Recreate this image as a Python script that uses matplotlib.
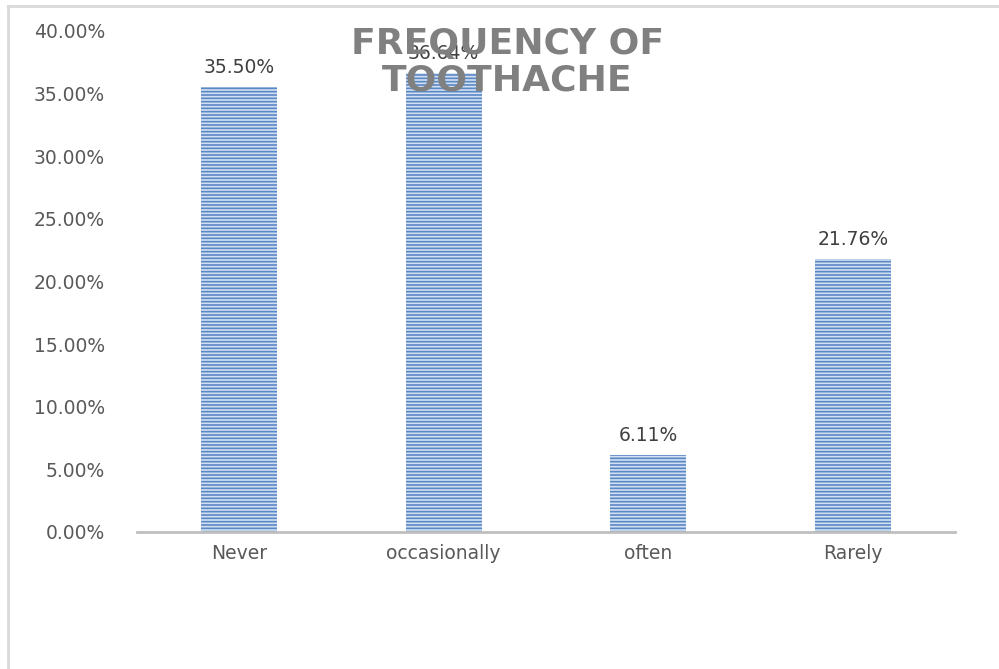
import matplotlib.pyplot as plt
from matplotlib.lines import Line2D
import numpy as np

# Survey answers: how often respondents get toothache
categories = ['Never', 'occasionally', 'often', 'Rarely']
percentages = [35.50, 36.64, 6.11, 21.76]
y_ticks = [0, 5, 10, 15, 20, 25, 30, 35, 40]

plt.rcParams['font.family'] = 'DejaVu Sans'
plt.rcParams['hatch.linewidth'] = 1.2

fig = plt.figure(figsize=(9.99, 6.69), dpi=100)
ax = fig.add_axes([0.137, 0.2048, 0.819, 0.7489])

x = np.arange(len(categories))
bars = ax.bar(x, percentages, width=0.373, color='#d3e0f2',
              edgecolor='#5a88c5', linewidth=0, hatch='-----', zorder=2)

# value labels on top of each bar
for xi, v in zip(x, percentages):
    ax.text(xi, v + 0.8, f'{v:.2f}%', ha='center', va='bottom',
            fontsize=13.5, color='#404040', zorder=3)

ax.set_xlim(-0.5, 3.5)
ax.set_ylim(0, 40)
ax.set_yticks(y_ticks)
ax.set_yticklabels([f'{t:.2f}%' for t in y_ticks])
ax.set_xticks(x)
ax.set_xticklabels(categories)
ax.tick_params(axis='y', length=0, pad=23, labelsize=13.5, labelcolor='#595959')
ax.tick_params(axis='x', length=0, pad=9, labelsize=13.5, labelcolor='#595959')

for side in ['top', 'right', 'left']:
    ax.spines[side].set_visible(False)
ax.spines['bottom'].set_color('#bfbfbf')
ax.spines['bottom'].set_linewidth(2)
ax.spines['bottom'].set_zorder(3)

# title sits over the plot area
fig.text(0.508, 0.907, 'FREQUENCY OF\nTOOTHACHE', ha='center', va='center',
         fontsize=26, fontweight='bold', color='#808080', linespacing=1.1,
         zorder=10)

# chart frame lines (left and top)
fig.add_artist(Line2D([0.008, 0.008], [0, 0.991], color='#d9d9d9', linewidth=2))
fig.add_artist(Line2D([0.008, 0.999], [0.991, 0.991], color='#d9d9d9', linewidth=2))

fig.savefig('out.png', dpi=100)
